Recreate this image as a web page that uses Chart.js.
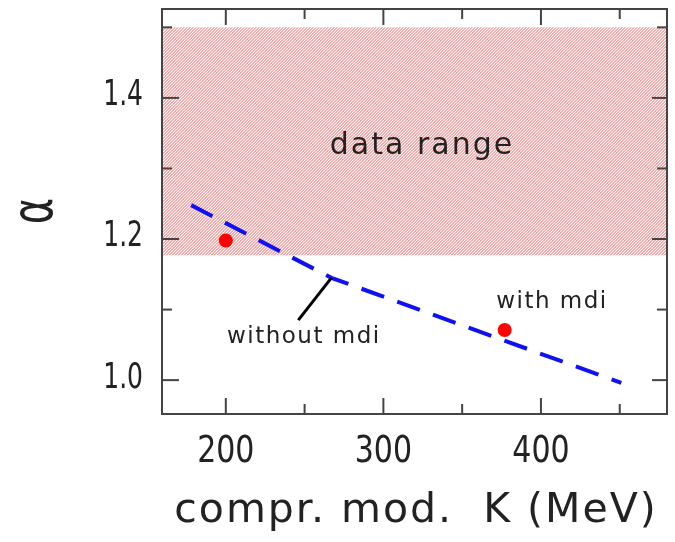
<!DOCTYPE html>
<html>
<head>
<meta charset="utf-8">
<script src="https://cdn.jsdelivr.net/npm/chart.js@4/dist/chart.umd.min.js"></script>
<style>
  html, body { margin: 0; padding: 0; background: #fff; }
  canvas { display: block; }
</style>
</head>
<body>
<canvas id="chart" width="675" height="542"></canvas>
<script>
// axis ranges and tick values
const xRange = [159.5, 480];
const yRange = [0.952, 1.526];
const xMajorTicks = [200, 300, 400];
const xMinorTicks = [250, 350, 450];
const yMajorTicks = [1.0, 1.2, 1.4];
const yMinorTicks = [1.1, 1.3, 1.5];

// hatched "data range" band
const bandK = [159.5, 480];
const bandLow = [1.177, 1.177];
const bandHigh = [1.5, 1.5];

// dashed curve
const curveK = [178, 267, 451];
const curveAlpha = [1.248, 1.145, 0.996];

// red points
const pointK = [200, 377];
const pointAlpha = [1.198, 1.071];

// pointer line for "without mdi"
const pointerK = [246, 267];
const pointerAlpha = [1.085, 1.145];

// annotations, anchored in data coordinates
const noteText = ['data range', 'without mdi', 'with mdi'];
const noteK = [324.5, 249.5, 407];
const noteAlpha = [1.331, 1.061, 1.111];

const xTitle = 'compr. mod.  K (MeV)';
const yTitle = 'α';

const pts = (xs, ys) => xs.map((x, i) => ({ x, y: ys[i] }));

function makeHatch() {
  const c = document.createElement('canvas');
  c.width = 3; c.height = 3;
  const g = c.getContext('2d');
  g.fillStyle = 'rgb(255,172,172)';
  g.fillRect(0, 0, 3, 3);
  g.fillStyle = '#ffffff';
  g.fillRect(2, 0, 1, 1);
  g.fillRect(1, 1, 1, 1);
  g.fillRect(0, 2, 1, 1);
  return g.createPattern(c, 'repeat');
}

function drawText(ctx, text, x, y, opts) {
  ctx.save();
  ctx.translate(x, y);
  if (opts.rot) ctx.rotate(opts.rot);
  ctx.scale(1, opts.sy || 1);
  ctx.font = `${opts.size}px "DejaVu Sans"`;
  ctx.letterSpacing = (opts.ls || 0) + 'px';
  ctx.fillStyle = '#222';
  ctx.textAlign = opts.align || 'center';
  ctx.textBaseline = opts.baseline || 'middle';
  ctx.fillText(text, 0, 0);
  ctx.restore();
}

const framePlugin = {
  id: 'frame',
  afterDatasetsDraw(chart) {
    const { ctx, chartArea: a, scales: { x, y } } = chart;
    ctx.save();
    ctx.strokeStyle = '#444';
    ctx.lineWidth = 2;
    ctx.strokeRect(a.left, a.top, a.right - a.left, a.bottom - a.top);

    const seg = (x1, y1, x2, y2) => {
      ctx.beginPath(); ctx.moveTo(x1, y1); ctx.lineTo(x2, y2); ctx.stroke();
    };
    xMajorTicks.forEach(v => {
      const px = x.getPixelForValue(v);
      seg(px, a.bottom, px, a.bottom - 16);
      seg(px, a.top, px, a.top + 16);
    });
    xMinorTicks.forEach(v => {
      const px = x.getPixelForValue(v);
      seg(px, a.bottom, px, a.bottom - 10);
      seg(px, a.top, px, a.top + 10);
    });
    yMajorTicks.forEach(v => {
      const py = y.getPixelForValue(v);
      seg(a.left, py, a.left + 17, py);
      seg(a.right, py, a.right - 15, py);
    });
    yMinorTicks.forEach(v => {
      const py = y.getPixelForValue(v);
      seg(a.left, py, a.left + 10, py);
      seg(a.right, py, a.right - 10, py);
    });
    ctx.restore();

    // tick labels
    xMajorTicks.forEach(v => {
      drawText(ctx, String(v), x.getPixelForValue(v), a.bottom + 38, { size: 30, sy: 1.25 });
    });
    yMajorTicks.forEach(v => {
      drawText(ctx, v.toFixed(1), a.left - 19, y.getPixelForValue(v) - 2, { size: 25, sy: 1.45, align: 'right' });
    });

    // axis titles
    drawText(ctx, xTitle, 416, 522, { size: 41, ls: 2, baseline: 'alphabetic' });
    drawText(ctx, yTitle, 37, 211, { size: 40, sy: 1.4, rot: -Math.PI / 2 });

    // annotations
    const noteSize = [30, 23, 23];
    const noteLs = [2, 1.5, 1.5];
    noteText.forEach((t, i) => {
      drawText(ctx, t, x.getPixelForValue(noteK[i]), y.getPixelForValue(noteAlpha[i]),
        { size: noteSize[i], ls: noteLs[i] });
    });
  },
};

new Chart(document.getElementById('chart').getContext('2d'), {
  type: 'line',
  data: {
    datasets: [
      {
        data: pts(bandK, bandLow),
        borderWidth: 0,
        pointRadius: 0,
        fill: false,
        order: 10,
      },
      {
        data: pts(bandK, bandHigh),
        borderWidth: 0,
        pointRadius: 0,
        backgroundColor: makeHatch(),
        fill: 0,
        order: 9,
      },
      {
        data: pts(curveK, curveAlpha),
        borderColor: '#1010f5',
        borderWidth: 4,
        borderDash: [24, 14],
        pointRadius: 0,
        fill: false,
        tension: 0,
        order: 3,
      },
      {
        data: pts(pointerK, pointerAlpha),
        borderColor: '#000',
        borderWidth: 3,
        pointRadius: 0,
        fill: false,
        order: 2,
      },
      {
        type: 'scatter',
        data: pts(pointK, pointAlpha),
        backgroundColor: '#ff0000',
        borderColor: '#ff0000',
        borderWidth: 0,
        pointRadius: 7,
        showLine: false,
        order: 1,
      },
    ],
  },
  options: {
    responsive: false,
    animation: false,
    devicePixelRatio: 1,
    layout: { padding: { left: 162, right: 8, top: 9, bottom: 128 } },
    plugins: {
      legend: { display: false },
      tooltip: { enabled: false },
    },
    scales: {
      x: { type: 'linear', min: xRange[0], max: xRange[1], display: false },
      y: { type: 'linear', min: yRange[0], max: yRange[1], display: false },
    },
  },
  plugins: [framePlugin],
});
</script>
</body>
</html>
